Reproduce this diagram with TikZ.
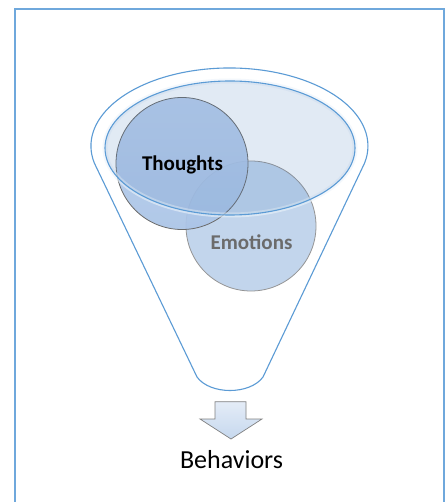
\documentclass[tikz,border=0pt]{standalone}
\usepackage{fontspec}
\setmainfont{Carlito}
\usetikzlibrary{shapes.geometric}
\definecolor{frameblue}{HTML}{6FA8DC}
\definecolor{funnelblue}{HTML}{5B9BD5}
\definecolor{ovblue}{HTML}{4A7EBB}
\definecolor{emofill}{HTML}{C2D5EC}
\definecolor{thtop}{HTML}{B6CCEB}
\definecolor{thbot}{HTML}{ABC4E7}
\definecolor{arrtop}{HTML}{E4ECF7}
\definecolor{arrbot}{HTML}{C6D8EE}
\definecolor{emotext}{HTML}{6B6B6B}
\tikzset{
  frameline/.style={draw=frameblue, line width=1.8pt},
  funnelline/.style={draw=funnelblue, line width=1.1pt},
  bubble/.style={circle, inner sep=0pt, line width=0.8pt},
  lbl/.style={anchor=base, inner sep=0pt, font=\bfseries\fontsize{21}{24}\selectfont},
}
\begin{document}
\begin{tikzpicture}[x=1pt,y=-1pt]
\useasboundingbox (0,0) rectangle (445,502);
\clip (0,0) rectangle (445,502);
\fill[white] (0,0) rectangle (445,502);
% frame
\draw[frameline] (15,520) -- (15,9) -- (444,9) -- (444,520);
% funnel outline
\draw[funnelline, line join=round]
  (94.3,163) arc[start angle=167.4, end angle=372.6, x radius=138.5, y radius=78]
  -- (263,377) .. controls (250,395) and (210,395) .. (197,377) -- cycle;
% circles
\node[bubble, minimum size=130pt, fill=emofill, draw=black!42] (emo) at (251,226) {};
\node[bubble, minimum size=132pt, top color=thtop, bottom color=thbot, draw=black!58, fill opacity=0.93] (tho) at (182,163.5) {};
% inner ellipse: glow, translucent fill, outline
\draw[draw=funnelblue!12, line width=5pt, opacity=0.6] (230,148) ellipse [x radius=125, y radius=67];
\fill[fill=ovblue, opacity=0.16] (230,148) ellipse [x radius=125, y radius=67];
\draw[funnelline] (230,148) ellipse [x radius=125, y radius=67];
% labels
\node[lbl, text=black] (thotext) at (182.5,171) {Thoughts};
\node[lbl, text=emotext] (emotext) at (251.5,249) {Emotions};
% arrow
\draw[draw=black!50, line width=0.7pt, top color=arrtop, bottom color=arrbot, line join=miter]
  (215,401.7) -- (246,401.7) -- (246,419) -- (262,419) -- (231,439) -- (200,419) -- (215,419) -- cycle;
\node[anchor=base, inner sep=0pt, font=\fontsize{26}{30}\selectfont] (beh) at (231.5,468) {Behaviors};
\end{tikzpicture}
\end{document}
